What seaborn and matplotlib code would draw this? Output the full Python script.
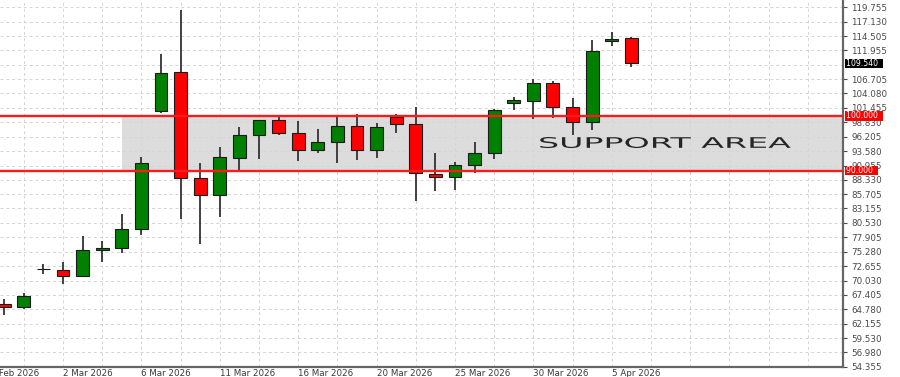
import numpy as np
import pandas as pd
import matplotlib
matplotlib.use("Agg")
import matplotlib.pyplot as plt
import seaborn as sns
from matplotlib.patheffects import AbstractPathEffect
from matplotlib.transforms import Affine2D, blended_transform_factory

# ---------------- data ----------------
opens  = [65.80, 65.27, 72.13, 71.94, 70.91, 75.58, 75.89, 79.41, 100.94, 108.03,
          88.63, 85.60, 92.39, 96.51, 99.24, 96.82, 93.78, 95.30, 98.21, 93.78,
          99.85, 98.51, 89.36, 88.82, 91.05, 93.18, 102.34, 102.76, 106.03, 101.56,
          98.82, 113.62, 114.11]
highs  = [66.67, 67.82, 72.98, 73.35, 78.13, 77.28, 82.14, 92.46, 111.20, 119.26,
          91.47, 94.39, 98.02, 99.30, 99.74, 99.12, 97.55, 99.74, 100.34, 98.64,
          100.40, 101.56, 93.30, 91.66, 95.30, 101.19, 103.38, 106.65, 106.39, 103.19,
          113.80, 115.21, 114.40]
lows   = [63.76, 64.79, 71.17, 69.35, 70.75, 73.35, 74.98, 78.31, 100.57, 81.17,
          76.68, 81.65, 90.02, 92.09, 96.51, 91.84, 93.18, 91.36, 91.97, 92.39,
          96.82, 84.56, 86.32, 86.51, 89.55, 92.09, 101.07, 99.37, 99.55, 96.51,
          97.42, 112.77, 108.83]
closes = [65.30, 67.27, 72.13, 70.91, 75.58, 75.89, 79.41, 91.36, 107.85, 88.63,
          85.60, 92.46, 96.51, 99.24, 96.93, 93.78, 95.24, 98.21, 93.78, 97.92,
          98.51, 89.55, 88.93, 91.05, 93.18, 101.07, 102.83, 106.03, 101.56, 98.82,
          111.80, 113.99, 109.54]

first_date_tick = -1
first_date_label = "25 Feb 2026"
date_ticks  = [3, 7, 11, 15, 19, 23, 27, 31]
date_labels = ["2 Mar 2026", "6 Mar 2026", "11 Mar 2026", "16 Mar 2026",
               "20 Mar 2026", "25 Mar 2026", "30 Mar 2026", "5 Apr 2026"]
price_labels = ["119.755", "117.130", "114.505", "111.955", "106.705",
                "104.080", "101.455", "98.830", "96.205", "93.580", "90.955",
                "88.330", "85.705", "83.155", "80.530", "77.905", "75.280",
                "72.655", "70.030", "67.405", "64.780", "62.155", "59.530",
                "56.980", "54.355"]
hidden_grid_level = 109.255
support_low, support_high = 90.0, 100.0
last_price = 109.540
support_text = "SUPPORT AREA"

df = pd.DataFrame({"open": opens, "high": highs, "low": lows, "close": closes})
df["x"] = np.arange(len(df))
df["bottom"] = df[["open", "close"]].min(axis=1)
df["height"] = (df["close"] - df["open"]).abs()
df["color"] = np.where(df["close"] > df["open"], "#008000",
                       np.where(df["close"] < df["open"], "#ff0000", "#555555"))


class HStretch(AbstractPathEffect):
    """Stretch rendered text horizontally (text stays a Text artist)."""
    def __init__(self, sx):
        super().__init__()
        self.sx = sx

    def draw_path(self, renderer, gc, tpath, affine, rgbFace=None):
        ext = tpath.get_extents(affine)
        x0 = ext.x0
        t = affine + Affine2D().translate(-x0, 0).scale(self.sx, 1).translate(x0, 0)
        renderer.draw_path(gc, tpath, t, rgbFace)


sns.set_style("white")
plt.rcParams["font.family"] = ["DejaVu Sans"]

fig = plt.figure(figsize=(9, 3.77), dpi=100)
ax = fig.add_axes([0, 0.0273, 0.9367, 0.9727])

# support band
ax.fill_between([6, 43], support_low, support_high, color="#dcdcdc", lw=0, zorder=0.2)

# wicks and bodies
ax.vlines(df["x"], df["low"], df["high"], color="#333333", lw=1.3, zorder=2)
ax.bar(df["x"], df["height"], bottom=df["bottom"], width=0.66, color=df["color"],
       edgecolor="#1a1a1a", linewidth=0.8, zorder=3)

# support lines
for lvl in (support_low, support_high):
    ax.axhline(lvl, color="#ff1a1a", lw=1.7, zorder=4)

ax.text(27.3, 95.0, support_text, ha="left", va="center", fontsize=10.5,
        color="#262626", zorder=5, path_effects=[HStretch(2.28)])

# ticks
ax.yaxis.tick_right()
ax.set_yticks([float(s) for s in price_labels])
ax.set_yticklabels(price_labels)
ax.tick_params(axis="y", length=3, width=0.8, colors="#4a4a4a", labelsize=6.3, pad=3)

ax.set_xticks(date_ticks)
ax.set_xticklabels(date_labels, ha="left")
ax.set_xticks(range(1, 43, 2), minor=True)
ax.tick_params(axis="x", which="major", length=2, width=0.9, colors="#3a3a3a",
               labelsize=6.3, pad=-0.5)
ax.tick_params(axis="x", which="minor", length=0)

# first date label lies left of the visible window (cut by the figure edge)
ax.annotate(first_date_label, xy=(first_date_tick, 0),
            xycoords=("data", "axes fraction"), xytext=(0, -1.5),
            textcoords="offset points", ha="left", va="top",
            fontsize=6.3, color="#3a3a3a", annotation_clip=False)

ax.set_xlim(-0.214, 42.8)
ax.set_ylim(54.355, 121.08)

ax.set_axisbelow(True)
grid_kw = dict(color="#d4d4d4", lw=0.7, ls=(0, (3, 3)))
ax.grid(True, axis="x", which="both", **grid_kw)
ax.grid(True, axis="y", which="major", **grid_kw)
ax.axhline(hidden_grid_level, zorder=0.5, **grid_kw)

for side in ("top", "left"):
    ax.spines[side].set_visible(False)
for side in ("right", "bottom"):
    ax.spines[side].set_visible(True)
    ax.spines[side].set_color("#666666")
    ax.spines[side].set_linewidth(1.6)

# price boxes on the right axis
trans = blended_transform_factory(ax.transAxes, ax.transData)
box_specs = [(support_high, "100.000", "#ff0000"),
             (support_low, "90.000", "#ff0000"),
             (last_price, "109.540", "#000000")]
for val, txt, fc in box_specs:
    ax.text(1.003, val, txt + "  ", transform=trans, ha="left", va="center",
            fontsize=5.6, color="white", clip_on=False, zorder=10,
            bbox=dict(boxstyle="square,pad=0.02", fc=fc, ec="none"))

fig.savefig("out.png", dpi=100)
